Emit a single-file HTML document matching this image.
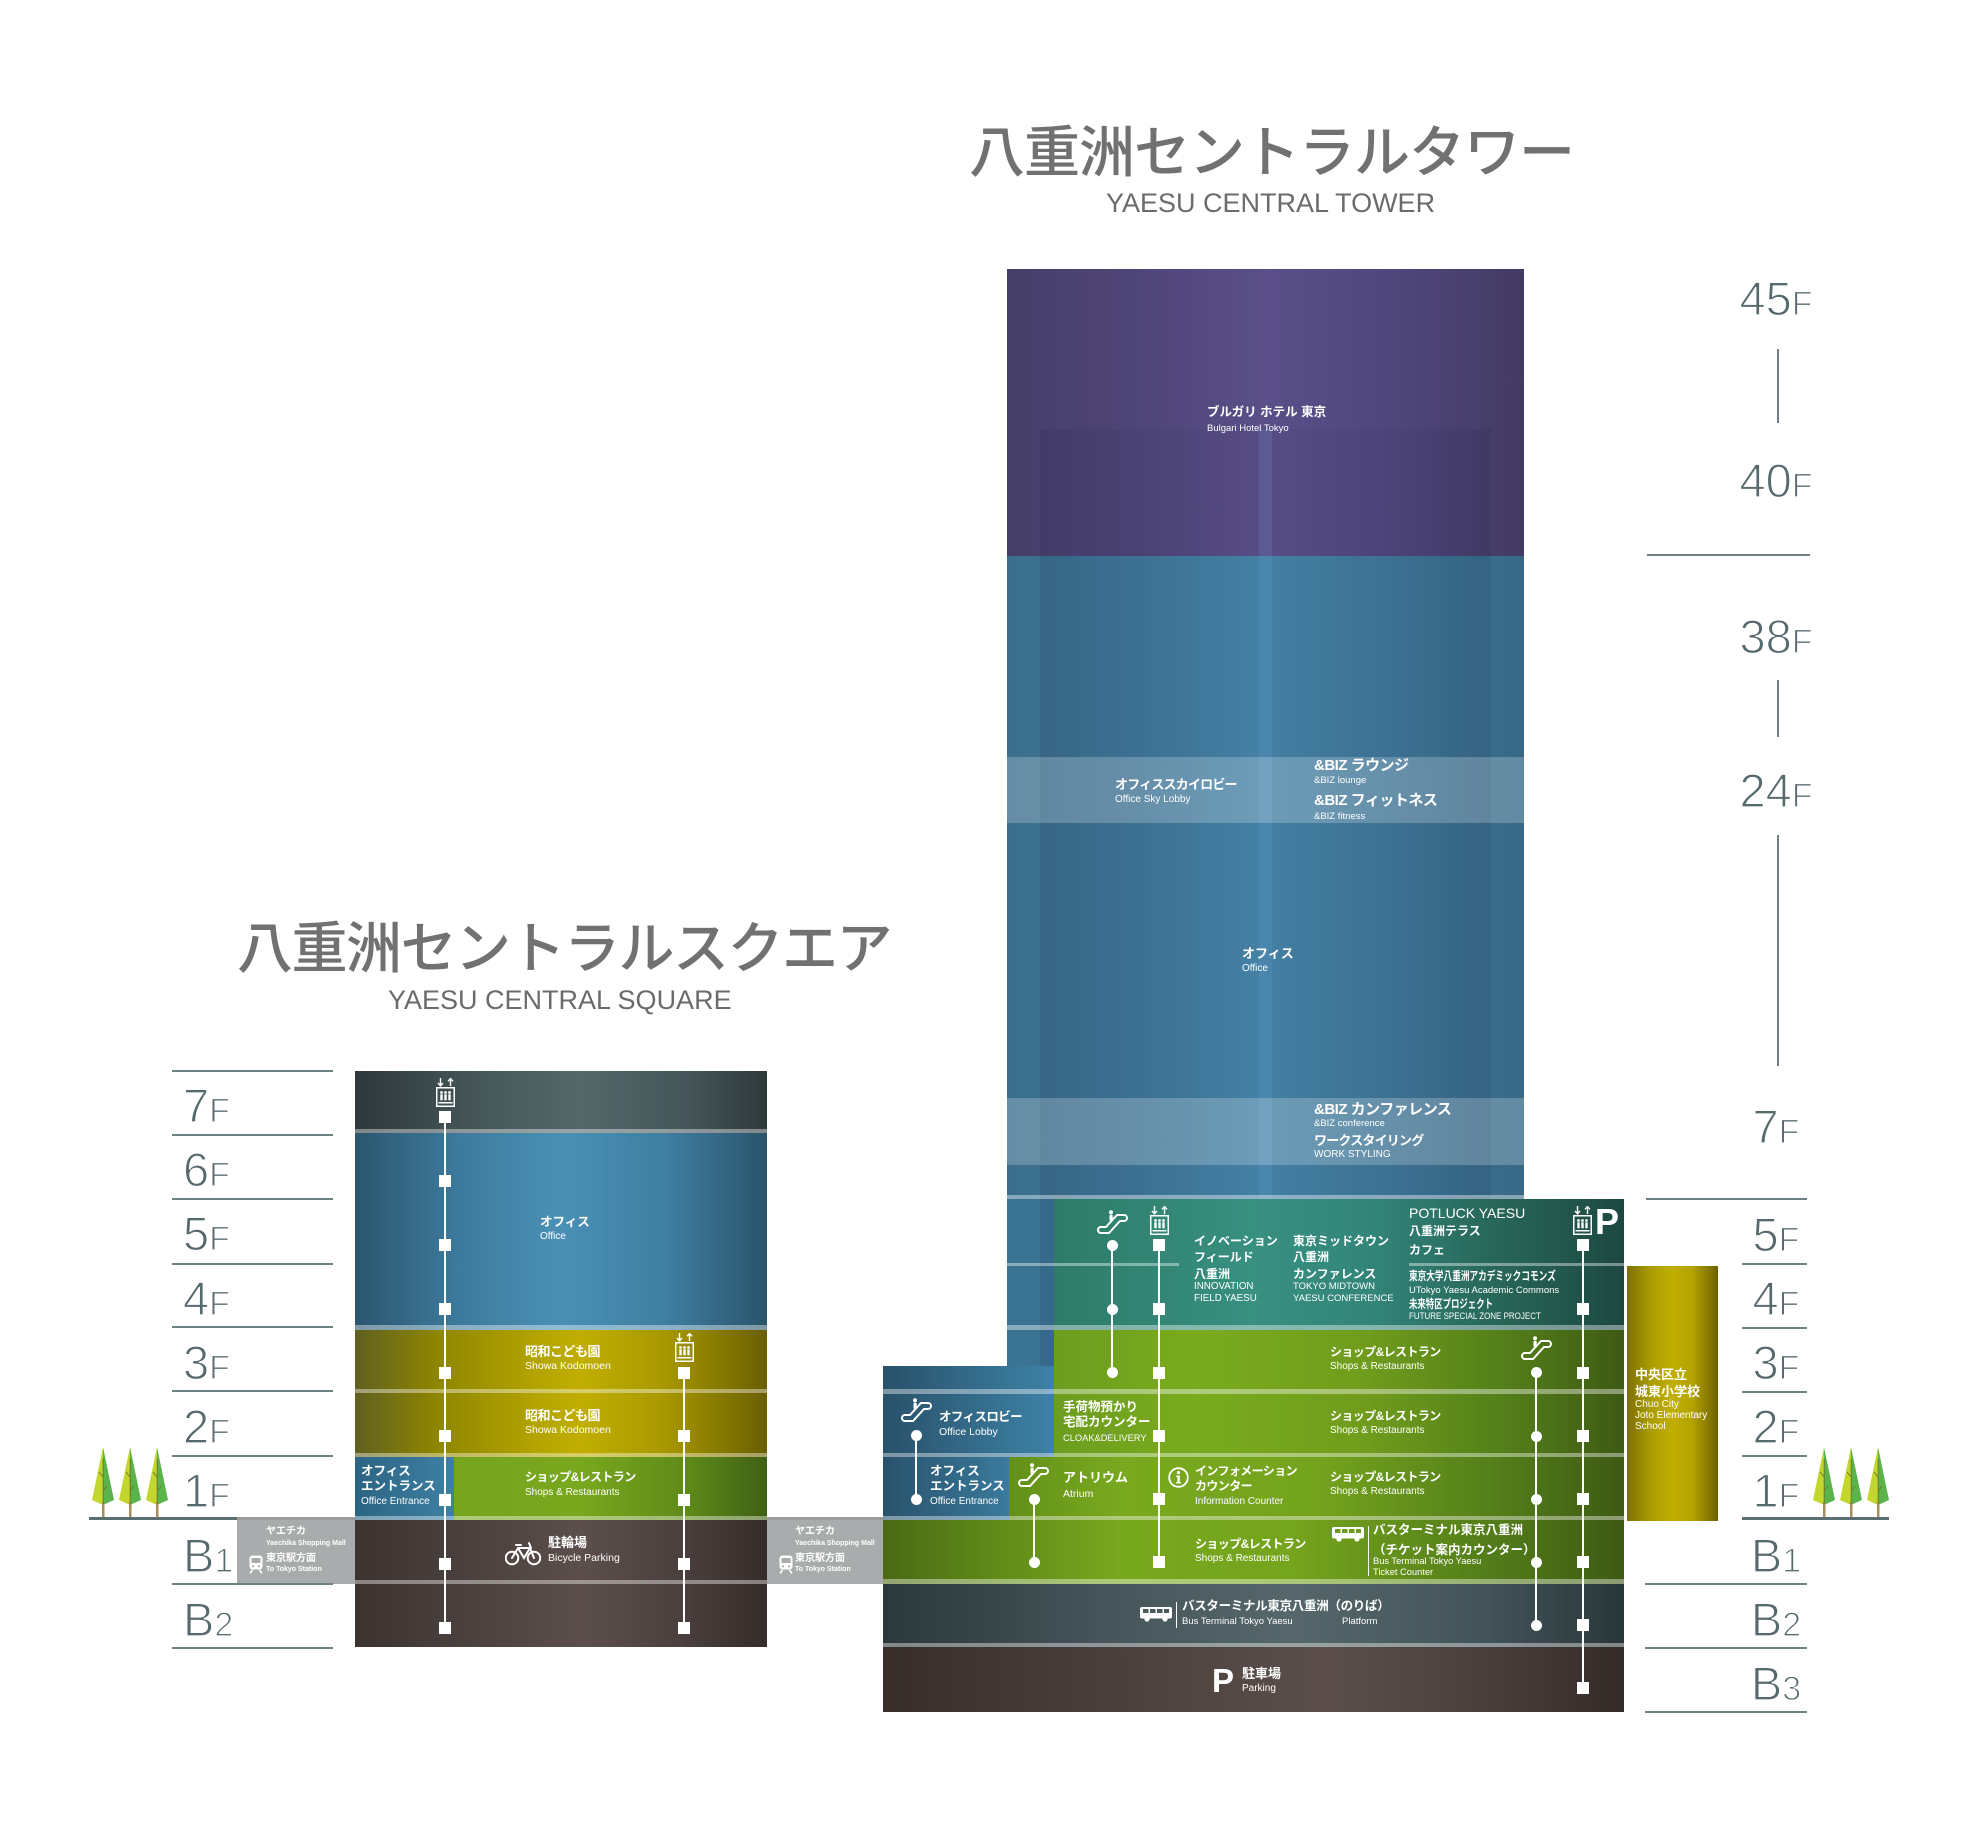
<!DOCTYPE html>
<html><head><meta charset="utf-8">
<style>
body{margin:0;background:#fff;}
#c{position:relative;width:1980px;height:1840px;overflow:hidden;background:#fff;font-family:"Liberation Sans","Noto Sans CJK JP",sans-serif;}
.a{position:absolute;}
.t{position:absolute;white-space:nowrap;color:#fff;line-height:1.2;font-family:"Liberation Sans","Noto Sans CJK JP",sans-serif;}
.b{font-weight:bold;}
.sep{position:absolute;background:rgba(255,255,255,.4);}
.ln{position:absolute;background:#6e8185;height:2px;}
.vl{position:absolute;background:#6e8185;width:2px;}
.fl{position:absolute;font-size:47px;line-height:47px;color:#56696d;-webkit-text-stroke:1.2px #fff;white-space:nowrap;font-family:"Liberation Sans",sans-serif;}
.fl span{font-size:34px;}
.fr{left:1716px;width:120px;text-align:center;}
.sq{position:absolute;width:12px;height:12px;background:#fff;}
.ci{position:absolute;width:11px;height:11px;border-radius:50%;background:#fff;}
.vw{position:absolute;width:2px;background:#fff;}
</style></head><body><div id="c">

<!-- Titles -->
<div class="t" style="left:969px;top:125px;font-size:56px;line-height:56px;color:#717171;letter-spacing:-1px;font-weight:500">八重洲セントラルタワー</div>
<div class="t" style="left:1106px;top:187px;font-size:27px;color:#6b6b6b">YAESU CENTRAL TOWER</div>
<div class="t" style="left:237px;top:921px;font-size:56px;line-height:56px;color:#717171;letter-spacing:-1.5px;font-weight:500">八重洲セントラルスクエア</div>
<div class="t" style="left:388px;top:984px;font-size:27px;color:#6b6b6b">YAESU CENTRAL SQUARE</div>

<!-- ===== TOWER ===== -->
<div class="a" style="left:1007px;top:269px;width:517px;height:287px;background:linear-gradient(90deg,#463e69 0%,#51477b 30%,#5a4f88 50%,#524880 70%,#433b63 100%)"></div>
<div class="a" style="left:1007px;top:556px;width:517px;height:643px;background:linear-gradient(90deg,#3a6e8c 0%,#3f7899 25%,#4584a7 48%,#3f7898 75%,#376987 100%)"></div>
<div class="a" style="left:1007px;top:1199px;width:47px;height:167px;background:#3b7393"></div>
<div class="a" style="left:1040px;top:429px;width:451px;height:770px;background:linear-gradient(90deg,rgba(20,20,60,.11),rgba(20,20,60,.03) 50%,rgba(20,20,60,.11))"></div>
<div class="a" style="left:1040px;top:1199px;width:14px;height:167px;background:rgba(20,20,60,.1)"></div>
<div class="a" style="left:1259px;top:429px;width:13px;height:770px;background:rgba(110,170,230,.16)"></div>
<div class="a" style="left:1007px;top:757px;width:517px;height:66px;background:rgba(255,255,255,.22)"></div>
<div class="a" style="left:1007px;top:1098px;width:517px;height:67px;background:rgba(255,255,255,.22)"></div>
<div class="sep" style="left:1007px;top:1195px;width:517px;height:4px"></div>

<!-- lower floors -->
<div class="a" style="left:1054px;top:1199px;width:570px;height:131px;background:linear-gradient(90deg,#2e7b68 0%,#389080 35%,#33857a 55%,#276658 78%,#1d4841 100%)"></div>
<div class="a" style="left:1054px;top:1330px;width:570px;height:64px;background:linear-gradient(90deg,#6c9d1f 0%,#7aab1e 25%,#6f9c1c 55%,#55801a 78%,#3e5a14 100%)"></div>
<div class="a" style="left:883px;top:1366px;width:171px;height:91px;background:linear-gradient(90deg,#29516a,#3d82a6)"></div>
<div class="a" style="left:1054px;top:1394px;width:570px;height:63px;background:linear-gradient(90deg,#6c9d1f 0%,#7aab1e 25%,#6f9c1c 55%,#55801a 78%,#3e5a14 100%)"></div>
<div class="a" style="left:883px;top:1457px;width:126px;height:63px;background:linear-gradient(90deg,#29526b,#3a7a9d)"></div>
<div class="a" style="left:1009px;top:1457px;width:615px;height:63px;background:linear-gradient(90deg,#62901a 0%,#79a91e 18%,#74a31d 50%,#55801a 78%,#3e5a14 100%)"></div>
<div class="a" style="left:883px;top:1520px;width:741px;height:64px;background:linear-gradient(90deg,#4a6914 0%,#5f8a18 15%,#78a81e 32%,#75a41d 55%,#55801a 80%,#3e5a14 100%)"></div>
<div class="a" style="left:883px;top:1584px;width:741px;height:63px;background:linear-gradient(90deg,#2b383c 0%,#455559 30%,#56676b 55%,#44555a 80%,#29373a 100%)"></div>
<div class="a" style="left:883px;top:1647px;width:741px;height:65px;background:linear-gradient(90deg,#372e2c 0%,#4a3f3c 30%,#5c4f4b 60%,#4b403d 80%,#342b29 100%)"></div>

<div class="sep" style="left:1007px;top:1263px;width:172px;height:3px"></div>
<div class="sep" style="left:1409px;top:1263px;width:215px;height:3px"></div>
<div class="sep" style="left:1007px;top:1325px;width:617px;height:5px"></div>
<div class="sep" style="left:883px;top:1389px;width:741px;height:5px"></div>
<div class="sep" style="left:883px;top:1453px;width:741px;height:4px"></div>
<div class="sep" style="left:883px;top:1516px;width:741px;height:4px"></div>
<div class="sep" style="left:883px;top:1579px;width:741px;height:5px"></div>
<div class="sep" style="left:883px;top:1643px;width:741px;height:4px"></div>

<!-- School -->
<div class="a" style="left:1627px;top:1266px;width:91px;height:255px;background:linear-gradient(90deg,#7d7000 0%,#a99b00 25%,#c1af00 50%,#b3a200 72%,#6c6000 100%)"></div>

<!-- ===== SQUARE (left building) ===== -->
<div class="a" style="left:355px;top:1071px;width:412px;height:62px;background:linear-gradient(90deg,#2e383a 0%,#46575a 30%,#546769 55%,#45565a 80%,#2e393b 100%)"></div>
<div class="a" style="left:355px;top:1133px;width:412px;height:197px;background:linear-gradient(90deg,#2b566e 0%,#3d7a9c 25%,#4a90b6 50%,#3f7fa2 75%,#2a546b 100%)"></div>
<div class="a" style="left:355px;top:1330px;width:412px;height:63px;background:linear-gradient(90deg,#5f6020 0%,#8f8600 20%,#b5a500 45%,#c0ae00 55%,#a89800 75%,#6a5f00 100%)"></div>
<div class="a" style="left:355px;top:1393px;width:412px;height:64px;background:linear-gradient(90deg,#5f6020 0%,#8f8600 20%,#b5a500 45%,#c0ae00 55%,#a89800 75%,#6a5f00 100%)"></div>
<div class="a" style="left:355px;top:1457px;width:99px;height:63px;background:linear-gradient(90deg,#2c6483,#3e80a3)"></div>
<div class="a" style="left:454px;top:1457px;width:313px;height:63px;background:linear-gradient(90deg,#76a41e 0%,#79a81e 40%,#5e8a18 75%,#3f6014 100%)"></div>
<div class="a" style="left:355px;top:1520px;width:412px;height:64px;background:linear-gradient(90deg,#3c3331 0%,#4f4440 35%,#5c4f4b 55%,#4a3f3c 80%,#352c2a 100%)"></div>
<div class="a" style="left:355px;top:1584px;width:412px;height:63px;background:linear-gradient(90deg,#3c3331 0%,#4f4440 35%,#5c4f4b 55%,#4a3f3c 80%,#352c2a 100%)"></div>
<div class="sep" style="left:355px;top:1129px;width:412px;height:4px"></div>
<div class="sep" style="left:355px;top:1325px;width:412px;height:5px"></div>
<div class="sep" style="left:355px;top:1389px;width:412px;height:4px"></div>
<div class="sep" style="left:355px;top:1453px;width:412px;height:4px"></div>
<div class="sep" style="left:355px;top:1516px;width:412px;height:4px"></div>
<div class="sep" style="left:355px;top:1580px;width:412px;height:4px"></div>

<!-- Gray Yaechika boxes -->
<div class="a" style="left:237px;top:1517px;width:118px;height:67px;background:linear-gradient(180deg,#9e9a98 0,#9e9a98 3px,#a9acad 3px)"></div>
<div class="a" style="left:767px;top:1517px;width:116px;height:67px;background:linear-gradient(180deg,#9e9a98 0,#9e9a98 3px,#a9acad 3px)"></div>

<!-- Floor lines left -->
<div class="ln" style="left:172px;top:1070px;width:161px"></div>
<div class="ln" style="left:172px;top:1134px;width:161px"></div>
<div class="ln" style="left:172px;top:1198px;width:161px"></div>
<div class="ln" style="left:172px;top:1263px;width:161px"></div>
<div class="ln" style="left:172px;top:1326px;width:161px"></div>
<div class="ln" style="left:172px;top:1390px;width:161px"></div>
<div class="ln" style="left:172px;top:1455px;width:161px"></div>
<div class="ln" style="left:172px;top:1583px;width:161px"></div>
<div class="ln" style="left:172px;top:1647px;width:161px"></div>
<div class="a" style="left:89px;top:1517px;width:148px;height:3px;background:#5b6e72"></div>

<!-- Floor lines right -->
<div class="ln" style="left:1647px;top:554px;width:163px"></div>
<div class="ln" style="left:1646px;top:1198px;width:161px"></div>
<div class="ln" style="left:1742px;top:1263px;width:65px"></div>
<div class="ln" style="left:1742px;top:1327px;width:65px"></div>
<div class="ln" style="left:1742px;top:1391px;width:65px"></div>
<div class="ln" style="left:1742px;top:1455px;width:65px"></div>
<div class="ln" style="left:1645px;top:1583px;width:162px"></div>
<div class="ln" style="left:1645px;top:1647px;width:162px"></div>
<div class="ln" style="left:1645px;top:1711px;width:162px"></div>
<div class="a" style="left:1742px;top:1517px;width:147px;height:3px;background:#5b6e72"></div>
<div class="vl" style="left:1777px;top:349px;height:74px"></div>
<div class="vl" style="left:1777px;top:680px;height:57px"></div>
<div class="vl" style="left:1777px;top:835px;height:231px"></div>

<!-- Floor labels left -->
<div class="fl" style="left:183px;top:1082px">7<span>F</span></div>
<div class="fl" style="left:183px;top:1146px">6<span>F</span></div>
<div class="fl" style="left:183px;top:1210px">5<span>F</span></div>
<div class="fl" style="left:183px;top:1275px">4<span>F</span></div>
<div class="fl" style="left:183px;top:1339px">3<span>F</span></div>
<div class="fl" style="left:183px;top:1403px">2<span>F</span></div>
<div class="fl" style="left:183px;top:1467px">1<span>F</span></div>
<div class="fl" style="left:183px;top:1532px">B<span>1</span></div>
<div class="fl" style="left:183px;top:1596px">B<span>2</span></div>

<!-- Floor labels right -->
<div class="fl fr" style="top:275px">45<span>F</span></div>
<div class="fl fr" style="top:457px">40<span>F</span></div>
<div class="fl fr" style="top:613px">38<span>F</span></div>
<div class="fl fr" style="top:767px">24<span>F</span></div>
<div class="fl fr" style="top:1103px">7<span>F</span></div>
<div class="fl fr" style="top:1211px">5<span>F</span></div>
<div class="fl fr" style="top:1275px">4<span>F</span></div>
<div class="fl fr" style="top:1339px">3<span>F</span></div>
<div class="fl fr" style="top:1403px">2<span>F</span></div>
<div class="fl fr" style="top:1467px">1<span>F</span></div>
<div class="fl fr" style="top:1532px">B<span>1</span></div>
<div class="fl fr" style="top:1596px">B<span>2</span></div>
<div class="fl fr" style="top:1660px">B<span>3</span></div>

<!-- Trees -->
<svg class="a" style="left:92px;top:1447px" width="22" height="70" viewBox="0 0 22 70"><polygon points="11,0 0,53 11,58" fill="#c2d62e"/><polygon points="11,0 22,53 11,58" fill="#5ab34b"/><rect x="10" y="55" width="2.5" height="15" fill="#a88e5c"/><path d="M11.2,12 V57 M11,30 L7,25 M11.2,44 L15,39" stroke="#6d7a2a" stroke-width="1" fill="none"/></svg>
<svg class="a" style="left:119px;top:1447px" width="22" height="70" viewBox="0 0 22 70"><polygon points="11,0 0,53 11,58" fill="#c2d62e"/><polygon points="11,0 22,53 11,58" fill="#5ab34b"/><rect x="10" y="55" width="2.5" height="15" fill="#a88e5c"/><path d="M11.2,12 V57 M11,30 L7,25 M11.2,44 L15,39" stroke="#6d7a2a" stroke-width="1" fill="none"/></svg>
<svg class="a" style="left:146px;top:1447px" width="22" height="70" viewBox="0 0 22 70"><polygon points="11,0 0,53 11,58" fill="#c2d62e"/><polygon points="11,0 22,53 11,58" fill="#5ab34b"/><rect x="10" y="55" width="2.5" height="15" fill="#a88e5c"/><path d="M11.2,12 V57 M11,30 L7,25 M11.2,44 L15,39" stroke="#6d7a2a" stroke-width="1" fill="none"/></svg>
<svg class="a" style="left:1813px;top:1447px" width="22" height="70" viewBox="0 0 22 70"><polygon points="11,0 0,53 11,58" fill="#c2d62e"/><polygon points="11,0 22,53 11,58" fill="#5ab34b"/><rect x="10" y="55" width="2.5" height="15" fill="#a88e5c"/><path d="M11.2,12 V57 M11,30 L7,25 M11.2,44 L15,39" stroke="#6d7a2a" stroke-width="1" fill="none"/></svg>
<svg class="a" style="left:1840px;top:1447px" width="22" height="70" viewBox="0 0 22 70"><polygon points="11,0 0,53 11,58" fill="#c2d62e"/><polygon points="11,0 22,53 11,58" fill="#5ab34b"/><rect x="10" y="55" width="2.5" height="15" fill="#a88e5c"/><path d="M11.2,12 V57 M11,30 L7,25 M11.2,44 L15,39" stroke="#6d7a2a" stroke-width="1" fill="none"/></svg>
<svg class="a" style="left:1867px;top:1447px" width="22" height="70" viewBox="0 0 22 70"><polygon points="11,0 0,53 11,58" fill="#c2d62e"/><polygon points="11,0 22,53 11,58" fill="#5ab34b"/><rect x="10" y="55" width="2.5" height="15" fill="#a88e5c"/><path d="M11.2,12 V57 M11,30 L7,25 M11.2,44 L15,39" stroke="#6d7a2a" stroke-width="1" fill="none"/></svg>

<!-- ===== Elevator / escalator lines ===== -->
<div class="vw" style="left:444px;top:1117px;height:511px"></div>
<div class="sq" style="left:439px;top:1111px"></div><div class="sq" style="left:439px;top:1175px"></div><div class="sq" style="left:439px;top:1239px"></div><div class="sq" style="left:439px;top:1303px"></div><div class="sq" style="left:439px;top:1367px"></div><div class="sq" style="left:439px;top:1430px"></div><div class="sq" style="left:439px;top:1494px"></div><div class="sq" style="left:439px;top:1558px"></div><div class="sq" style="left:439px;top:1622px"></div>

<div class="vw" style="left:683px;top:1373px;height:255px"></div>
<div class="sq" style="left:678px;top:1367px"></div><div class="sq" style="left:678px;top:1430px"></div><div class="sq" style="left:678px;top:1494px"></div><div class="sq" style="left:678px;top:1558px"></div><div class="sq" style="left:678px;top:1622px"></div>

<div class="vw" style="left:1158px;top:1245px;height:317px"></div>
<div class="sq" style="left:1153px;top:1239px"></div><div class="sq" style="left:1153px;top:1303px"></div><div class="sq" style="left:1153px;top:1367px"></div><div class="sq" style="left:1153px;top:1430px"></div><div class="sq" style="left:1153px;top:1493px"></div><div class="sq" style="left:1153px;top:1556px"></div>

<div class="vw" style="left:1582px;top:1245px;height:443px"></div>
<div class="sq" style="left:1577px;top:1239px"></div><div class="sq" style="left:1577px;top:1303px"></div><div class="sq" style="left:1577px;top:1367px"></div><div class="sq" style="left:1577px;top:1430px"></div><div class="sq" style="left:1577px;top:1493px"></div><div class="sq" style="left:1577px;top:1556px"></div><div class="sq" style="left:1577px;top:1619px"></div><div class="sq" style="left:1577px;top:1682px"></div>

<div class="vw" style="left:1111px;top:1245px;height:127px"></div>
<div class="ci" style="left:1106.5px;top:1239.5px"></div><div class="ci" style="left:1106.5px;top:1303.5px"></div><div class="ci" style="left:1106.5px;top:1366.5px"></div>

<div class="vw" style="left:915px;top:1435px;height:64px"></div>
<div class="ci" style="left:910.5px;top:1429.5px"></div><div class="ci" style="left:910.5px;top:1493.5px"></div>

<div class="vw" style="left:1033px;top:1499px;height:63px"></div>
<div class="ci" style="left:1028.5px;top:1493.5px"></div><div class="ci" style="left:1028.5px;top:1556.5px"></div>

<div class="vw" style="left:1535px;top:1372px;height:253px"></div>
<div class="ci" style="left:1530.5px;top:1366.5px"></div><div class="ci" style="left:1530.5px;top:1430.5px"></div><div class="ci" style="left:1530.5px;top:1493.5px"></div><div class="ci" style="left:1530.5px;top:1556.5px"></div><div class="ci" style="left:1530.5px;top:1619.5px"></div>

<!-- Elevator icons -->
<svg class="a" style="left:436px;top:1078px" width="19" height="29" viewBox="0 0 19 29"><g stroke="#fff" fill="none" stroke-width="1.4"><path d="M4.5,0 V7.5 M2,5 L4.5,7.8 L7,5 M14.5,8 V0.6 M12,3.3 L14.5,0.5 L17,3.3"/><rect x="0.75" y="9.75" width="17.5" height="18.5" stroke-width="1.5"/></g><g fill="#fff"><circle cx="5.5" cy="14.5" r="1.4"/><circle cx="9.5" cy="14.5" r="1.4"/><circle cx="13.5" cy="14.5" r="1.4"/><rect x="4.3" y="16.3" width="2.4" height="6"/><rect x="8.3" y="16.3" width="2.4" height="6"/><rect x="12.3" y="16.3" width="2.4" height="6"/><rect x="2.5" y="24" width="14" height="1.5"/></g></svg>
<svg class="a" style="left:675px;top:1333px" width="19" height="29" viewBox="0 0 19 29"><g stroke="#fff" fill="none" stroke-width="1.4"><path d="M4.5,0 V7.5 M2,5 L4.5,7.8 L7,5 M14.5,8 V0.6 M12,3.3 L14.5,0.5 L17,3.3"/><rect x="0.75" y="9.75" width="17.5" height="18.5" stroke-width="1.5"/></g><g fill="#fff"><circle cx="5.5" cy="14.5" r="1.4"/><circle cx="9.5" cy="14.5" r="1.4"/><circle cx="13.5" cy="14.5" r="1.4"/><rect x="4.3" y="16.3" width="2.4" height="6"/><rect x="8.3" y="16.3" width="2.4" height="6"/><rect x="12.3" y="16.3" width="2.4" height="6"/><rect x="2.5" y="24" width="14" height="1.5"/></g></svg>
<svg class="a" style="left:1150px;top:1206px" width="19" height="29" viewBox="0 0 19 29"><g stroke="#fff" fill="none" stroke-width="1.4"><path d="M4.5,0 V7.5 M2,5 L4.5,7.8 L7,5 M14.5,8 V0.6 M12,3.3 L14.5,0.5 L17,3.3"/><rect x="0.75" y="9.75" width="17.5" height="18.5" stroke-width="1.5"/></g><g fill="#fff"><circle cx="5.5" cy="14.5" r="1.4"/><circle cx="9.5" cy="14.5" r="1.4"/><circle cx="13.5" cy="14.5" r="1.4"/><rect x="4.3" y="16.3" width="2.4" height="6"/><rect x="8.3" y="16.3" width="2.4" height="6"/><rect x="12.3" y="16.3" width="2.4" height="6"/><rect x="2.5" y="24" width="14" height="1.5"/></g></svg>
<svg class="a" style="left:1573px;top:1206px" width="19" height="29" viewBox="0 0 19 29"><g stroke="#fff" fill="none" stroke-width="1.4"><path d="M4.5,0 V7.5 M2,5 L4.5,7.8 L7,5 M14.5,8 V0.6 M12,3.3 L14.5,0.5 L17,3.3"/><rect x="0.75" y="9.75" width="17.5" height="18.5" stroke-width="1.5"/></g><g fill="#fff"><circle cx="5.5" cy="14.5" r="1.4"/><circle cx="9.5" cy="14.5" r="1.4"/><circle cx="13.5" cy="14.5" r="1.4"/><rect x="4.3" y="16.3" width="2.4" height="6"/><rect x="8.3" y="16.3" width="2.4" height="6"/><rect x="12.3" y="16.3" width="2.4" height="6"/><rect x="2.5" y="24" width="14" height="1.5"/></g></svg>
<div class="t b" style="left:1595px;top:1204px;font-size:36px;line-height:36px">P</div>

<!-- Escalator icons -->
<svg class="a" style="left:1097px;top:1210px" width="31" height="25" viewBox="0 0 31 25"><path d="M4,17 H9 L20,5 H27 A3,3 0 0 1 27,11 H23 L12,23 H4 A3,3 0 0 1 4,17 Z" stroke="#fff" stroke-width="2" fill="none"/><circle cx="14" cy="2.2" r="2" fill="#fff"/><rect x="12.5" y="4.6" width="3.2" height="6.5" rx="1.2" fill="#fff"/></svg>
<svg class="a" style="left:901px;top:1398px" width="31" height="25" viewBox="0 0 31 25"><path d="M4,17 H9 L20,5 H27 A3,3 0 0 1 27,11 H23 L12,23 H4 A3,3 0 0 1 4,17 Z" stroke="#fff" stroke-width="2" fill="none"/><circle cx="14" cy="2.2" r="2" fill="#fff"/><rect x="12.5" y="4.6" width="3.2" height="6.5" rx="1.2" fill="#fff"/></svg>
<svg class="a" style="left:1018px;top:1463px" width="31" height="25" viewBox="0 0 31 25"><path d="M4,17 H9 L20,5 H27 A3,3 0 0 1 27,11 H23 L12,23 H4 A3,3 0 0 1 4,17 Z" stroke="#fff" stroke-width="2" fill="none"/><circle cx="14" cy="2.2" r="2" fill="#fff"/><rect x="12.5" y="4.6" width="3.2" height="6.5" rx="1.2" fill="#fff"/></svg>
<svg class="a" style="left:1521px;top:1336px" width="31" height="25" viewBox="0 0 31 25"><path d="M4,17 H9 L20,5 H27 A3,3 0 0 1 27,11 H23 L12,23 H4 A3,3 0 0 1 4,17 Z" stroke="#fff" stroke-width="2" fill="none"/><circle cx="14" cy="2.2" r="2" fill="#fff"/><rect x="12.5" y="4.6" width="3.2" height="6.5" rx="1.2" fill="#fff"/></svg>

<!-- Info icon -->
<svg class="a" style="left:1168px;top:1467px" width="21" height="21" viewBox="0 0 21 21"><circle cx="10.5" cy="10.5" r="9.3" stroke="#fff" stroke-width="1.8" fill="none"/><circle cx="10.5" cy="5.6" r="1.6" fill="#fff"/><path d="M8.3,8.5 H11.8 V15 H13 V16.5 H8.2 V15 H9.4 V10 H8.3 Z" fill="#fff"/></svg>

<!-- Bus icons -->
<svg class="a" style="left:1332px;top:1527px" width="32" height="15" viewBox="0 0 32 15"><rect x="0" y="0" width="32" height="11.5" rx="2" fill="#fff"/><g fill="#6a9a1e"><rect x="3" y="2" width="5.5" height="4"/><rect x="10" y="2" width="5.5" height="4"/><rect x="17" y="2" width="5.5" height="4"/><rect x="24" y="2" width="5" height="4"/></g><circle cx="7" cy="12" r="2.6" fill="#fff"/><circle cx="25" cy="12" r="2.6" fill="#fff"/></svg>
<div class="a" style="left:1368px;top:1526px;width:1px;height:50px;background:#fff"></div>
<svg class="a" style="left:1140px;top:1607px" width="32" height="15" viewBox="0 0 32 15"><rect x="0" y="0" width="32" height="11.5" rx="2" fill="#fff"/><g fill="#4a5b5f"><rect x="3" y="2" width="5.5" height="4"/><rect x="10" y="2" width="5.5" height="4"/><rect x="17" y="2" width="5.5" height="4"/><rect x="24" y="2" width="5" height="4"/></g><circle cx="7" cy="12" r="2.6" fill="#fff"/><circle cx="25" cy="12" r="2.6" fill="#fff"/></svg>
<div class="a" style="left:1176px;top:1602px;width:1px;height:26px;background:#fff"></div>

<!-- Bicycle -->
<svg class="a" style="left:505px;top:1542px" width="36" height="24" viewBox="0 0 36 24"><g stroke="#fff" stroke-width="2" fill="none" stroke-linecap="round"><circle cx="7" cy="16" r="6.3"/><circle cx="29" cy="16" r="6.3"/><path d="M7,16 L13,6 H25 L29,16 M13,6 L19,16 L25,6 M11,3 H16 M24,1 L26,6"/></g></svg>

<!-- Train icons -->
<svg class="a" style="left:249px;top:1555px" width="14" height="19" viewBox="0 0 14 19"><rect x="0.5" y="0.5" width="13" height="14" rx="3" fill="#fff"/><rect x="2.5" y="3" width="9" height="5" fill="#a9acad"/><circle cx="4" cy="11.3" r="1.1" fill="#a9acad"/><circle cx="10" cy="11.3" r="1.1" fill="#a9acad"/><path d="M3.5,15 L1,18.5 M10.5,15 L13,18.5" stroke="#fff" stroke-width="1.6"/></svg>
<svg class="a" style="left:779px;top:1555px" width="14" height="19" viewBox="0 0 14 19"><rect x="0.5" y="0.5" width="13" height="14" rx="3" fill="#fff"/><rect x="2.5" y="3" width="9" height="5" fill="#a9acad"/><circle cx="4" cy="11.3" r="1.1" fill="#a9acad"/><circle cx="10" cy="11.3" r="1.1" fill="#a9acad"/><path d="M3.5,15 L1,18.5 M10.5,15 L13,18.5" stroke="#fff" stroke-width="1.6"/></svg>

<!-- ===== TEXT: tower ===== -->
<div class="t b" style="left:1207px;top:405px;font-size:12.5px">ブルガリ ホテル 東京</div>
<div class="t" style="left:1207px;top:423px;font-size:9.5px">Bulgari Hotel Tokyo</div>

<div class="t b" style="left:1115px;top:777px;font-size:13px;letter-spacing:-0.8px">オフィススカイロビー</div>
<div class="t" style="left:1115px;top:794px;font-size:10px">Office Sky Lobby</div>
<div class="t b" style="left:1314px;top:757px;font-size:15px;letter-spacing:-0.5px">&amp;BIZ ラウンジ</div>
<div class="t" style="left:1314px;top:775px;font-size:9.5px">&amp;BIZ lounge</div>
<div class="t b" style="left:1314px;top:792px;font-size:15px;letter-spacing:-0.5px">&amp;BIZ フィットネス</div>
<div class="t" style="left:1314px;top:811px;font-size:9.5px">&amp;BIZ fitness</div>

<div class="t b" style="left:1242px;top:946px;font-size:13px">オフィス</div>
<div class="t" style="left:1242px;top:963px;font-size:10px">Office</div>

<div class="t b" style="left:1314px;top:1101px;font-size:15px;letter-spacing:-0.5px">&amp;BIZ カンファレンス</div>
<div class="t" style="left:1314px;top:1118px;font-size:9.5px">&amp;BIZ conference</div>
<div class="t b" style="left:1314px;top:1133px;font-size:13px;letter-spacing:-0.8px">ワークスタイリング</div>
<div class="t" style="left:1314px;top:1149px;font-size:10px">WORK STYLING</div>

<div class="t b" style="left:1194px;top:1234px;font-size:12px">イノベーション</div>
<div class="t b" style="left:1194px;top:1250px;font-size:12px">フィールド</div>
<div class="t b" style="left:1194px;top:1267px;font-size:12px">八重洲</div>
<div class="t" style="left:1194px;top:1281px;font-size:9.8px">INNOVATION</div>
<div class="t" style="left:1194px;top:1293px;font-size:9.8px">FIELD YAESU</div>

<div class="t b" style="left:1293px;top:1234px;font-size:12px">東京ミッドタウン</div>
<div class="t b" style="left:1293px;top:1250px;font-size:12px">八重洲</div>
<div class="t b" style="left:1293px;top:1267px;font-size:12px">カンファレンス</div>
<div class="t" style="left:1293px;top:1281px;font-size:9.5px">TOKYO MIDTOWN</div>
<div class="t" style="left:1293px;top:1293px;font-size:9.5px">YAESU CONFERENCE</div>

<div class="t" style="left:1409px;top:1205px;font-size:14px">POTLUCK YAESU</div>
<div class="t b" style="left:1409px;top:1224px;font-size:12px">八重洲テラス</div>
<div class="t b" style="left:1409px;top:1243px;font-size:12px">カフェ</div>
<div class="t b" style="left:1409px;top:1269px;font-size:12px;transform:scaleX(.72);transform-origin:0 0">東京大学八重洲アカデミックコモンズ</div>
<div class="t" style="left:1409px;top:1285px;font-size:9.5px">UTokyo Yaesu Academic Commons</div>
<div class="t b" style="left:1409px;top:1297px;font-size:12px;transform:scaleX(.7);transform-origin:0 0">未来特区プロジェクト</div>
<div class="t" style="left:1409px;top:1311px;font-size:9.5px;transform:scaleX(.84);transform-origin:0 0">FUTURE SPECIAL ZONE PROJECT</div>

<div class="t b" style="left:1330px;top:1345px;font-size:12px;letter-spacing:-0.6px">ショップ&amp;レストラン</div>
<div class="t" style="left:1330px;top:1361px;font-size:10px">Shops &amp; Restaurants</div>
<div class="t b" style="left:1330px;top:1409px;font-size:12px;letter-spacing:-0.6px">ショップ&amp;レストラン</div>
<div class="t" style="left:1330px;top:1425px;font-size:10px">Shops &amp; Restaurants</div>
<div class="t b" style="left:1330px;top:1470px;font-size:12px;letter-spacing:-0.6px">ショップ&amp;レストラン</div>
<div class="t" style="left:1330px;top:1486px;font-size:10px">Shops &amp; Restaurants</div>
<div class="t b" style="left:1195px;top:1537px;font-size:12px;letter-spacing:-0.6px">ショップ&amp;レストラン</div>
<div class="t" style="left:1195px;top:1553px;font-size:10px">Shops &amp; Restaurants</div>

<div class="t b" style="left:1063px;top:1400px;font-size:12.5px">手荷物預かり</div>
<div class="t b" style="left:1063px;top:1415px;font-size:12.5px">宅配カウンター</div>
<div class="t" style="left:1063px;top:1433px;font-size:9.3px">CLOAK&amp;DELIVERY</div>

<div class="t b" style="left:939px;top:1410px;font-size:12.5px;letter-spacing:-0.6px">オフィスロビー</div>
<div class="t" style="left:939px;top:1426px;font-size:10.5px">Office Lobby</div>

<div class="t b" style="left:930px;top:1464px;font-size:12.5px">オフィス</div>
<div class="t b" style="left:930px;top:1479px;font-size:12.5px">エントランス</div>
<div class="t" style="left:930px;top:1496px;font-size:10px">Office Entrance</div>

<div class="t b" style="left:1063px;top:1470px;font-size:13px">アトリウム</div>
<div class="t" style="left:1063px;top:1488px;font-size:10.5px">Atrium</div>

<div class="t b" style="left:1195px;top:1464px;font-size:12px;letter-spacing:-0.6px">インフォメーション</div>
<div class="t b" style="left:1195px;top:1479px;font-size:12px;letter-spacing:-0.6px">カウンター</div>
<div class="t" style="left:1195px;top:1496px;font-size:10px">Information Counter</div>

<div class="t b" style="left:1373px;top:1523px;font-size:12.5px">バスターミナル東京八重洲</div>
<div class="t b" style="left:1373px;top:1543px;font-size:12.5px">（チケット案内カウンター）</div>
<div class="t" style="left:1373px;top:1556px;font-size:9.3px">Bus Terminal Tokyo Yaesu</div>
<div class="t" style="left:1373px;top:1567px;font-size:9.3px">Ticket Counter</div>

<div class="t b" style="left:1182px;top:1599px;font-size:12.5px;letter-spacing:-0.3px">バスターミナル東京八重洲（のりば）</div>
<div class="t" style="left:1182px;top:1616px;font-size:9.5px">Bus Terminal Tokyo Yaesu</div>
<div class="t" style="left:1342px;top:1616px;font-size:9.5px">Platform</div>

<div class="t b" style="left:1212px;top:1664px;font-size:33px;line-height:33px">P</div>
<div class="t b" style="left:1242px;top:1666px;font-size:13px">駐車場</div>
<div class="t" style="left:1242px;top:1683px;font-size:10px">Parking</div>

<div class="t b" style="left:1635px;top:1367px;font-size:13px">中央区立</div>
<div class="t b" style="left:1635px;top:1384px;font-size:13px">城東小学校</div>
<div class="t" style="left:1635px;top:1399px;font-size:10px">Chuo City</div>
<div class="t" style="left:1635px;top:1410px;font-size:10px">Joto Elementary</div>
<div class="t" style="left:1635px;top:1421px;font-size:10px">School</div>

<!-- ===== TEXT: square ===== -->
<div class="t b" style="left:540px;top:1215px;font-size:12.5px">オフィス</div>
<div class="t" style="left:540px;top:1231px;font-size:10px">Office</div>

<div class="t b" style="left:525px;top:1344px;font-size:13px;letter-spacing:-0.5px">昭和こども園</div>
<div class="t" style="left:525px;top:1360px;font-size:10.5px">Showa Kodomoen</div>
<div class="t b" style="left:525px;top:1408px;font-size:13px;letter-spacing:-0.5px">昭和こども園</div>
<div class="t" style="left:525px;top:1424px;font-size:10.5px">Showa Kodomoen</div>
<div class="t b" style="left:525px;top:1470px;font-size:12px;letter-spacing:-0.6px">ショップ&amp;レストラン</div>
<div class="t" style="left:525px;top:1487px;font-size:10px">Shops &amp; Restaurants</div>

<div class="t b" style="left:361px;top:1464px;font-size:12.5px">オフィス</div>
<div class="t b" style="left:361px;top:1479px;font-size:12.5px">エントランス</div>
<div class="t" style="left:361px;top:1496px;font-size:10px">Office Entrance</div>

<div class="t b" style="left:548px;top:1535px;font-size:13px">駐輪場</div>
<div class="t" style="left:548px;top:1552px;font-size:10.5px">Bicycle Parking</div>

<div class="t b" style="left:266px;top:1526px;font-size:10px">ヤエチカ</div>
<div class="t b" style="left:266px;top:1540px;font-size:7px">Yaechika Shopping Mall</div>
<div class="t b" style="left:266px;top:1553px;font-size:10px">東京駅方面</div>
<div class="t b" style="left:266px;top:1566px;font-size:7px">To Tokyo Station</div>
<div class="t b" style="left:795px;top:1526px;font-size:10px">ヤエチカ</div>
<div class="t b" style="left:795px;top:1540px;font-size:7px">Yaechika Shopping Mall</div>
<div class="t b" style="left:795px;top:1553px;font-size:10px">東京駅方面</div>
<div class="t b" style="left:795px;top:1566px;font-size:7px">To Tokyo Station</div>

</div></body></html>
